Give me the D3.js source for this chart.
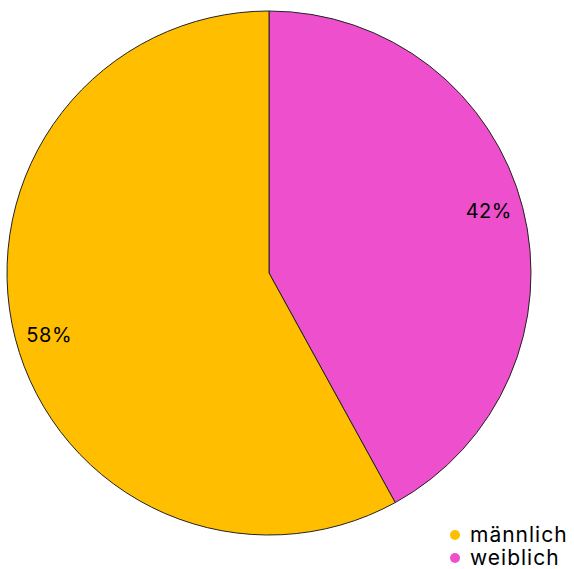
<!DOCTYPE html>
<html>
<head>
<meta charset="utf-8">
<script src="https://cdn.jsdelivr.net/npm/d3@7"></script>
<style>
  html, body { margin: 0; padding: 0; background: #fff; }
  svg { display: block; font-family: Inter, "Noto Sans", sans-serif; }
</style>
</head>
<body>
<svg id="chart" width="574" height="569"></svg>
<script>
// Geschlechterverteilung
const categories = ["weiblich", "männlich"];
const values = [42, 58];
const colors = ["#ED4FCD", "#FFBF00"];
const legendOrder = ["männlich", "weiblich"];

const svg = d3.select("#chart");
const cx = 269, cy = 273, radius = 262;

const color = d3.scaleOrdinal().domain(categories).range(colors);

const pie = d3.pie().sort(null).value(d => d.value);
const arcs = pie(categories.map((c, i) => ({ cat: c, value: values[i] })));

const arc = d3.arc().innerRadius(0).outerRadius(radius);
const labelR = radius * 0.872;
const labelArc = d3.arc().innerRadius(labelR).outerRadius(labelR);
// labels sit slightly counter-clockwise of the slice middle
const labelShift = -0.025;

const g = svg.append("g").attr("transform", `translate(${cx},${cy})`);

g.selectAll("path.slice")
  .data(arcs)
  .join("path")
  .attr("class", "slice")
  .attr("d", arc)
  .attr("fill", d => color(d.data.cat))
  .attr("stroke", "#222")
  .attr("stroke-width", 1);

g.selectAll("text.pct")
  .data(arcs)
  .join("text")
  .attr("class", "pct")
  .attr("transform", d => {
    const c = labelArc.centroid({ startAngle: d.startAngle + labelShift, endAngle: d.endAngle + labelShift });
    return `translate(${c})`;
  })
  .attr("text-anchor", "middle")
  .attr("dominant-baseline", "central")
  .attr("font-size", 20)
  .attr("letter-spacing", 0.5)
  .attr("fill", "#000")
  .text(d => d.data.value + "%");

// Legende unten rechts
const legend = svg.append("g").attr("transform", "translate(455,535)");
const item = legend.selectAll("g.item")
  .data(legendOrder)
  .join("g")
  .attr("class", "item")
  .attr("transform", (d, i) => `translate(0,${i * 23})`);

item.append("circle")
  .attr("r", 5)
  .attr("fill", d => color(d));

item.append("text")
  .attr("x", 15)
  .attr("y", 7)
  .attr("font-size", 21)
  .attr("letter-spacing", 1)
  .attr("fill", "#000")
  .text(d => d);
</script>
</body>
</html>
